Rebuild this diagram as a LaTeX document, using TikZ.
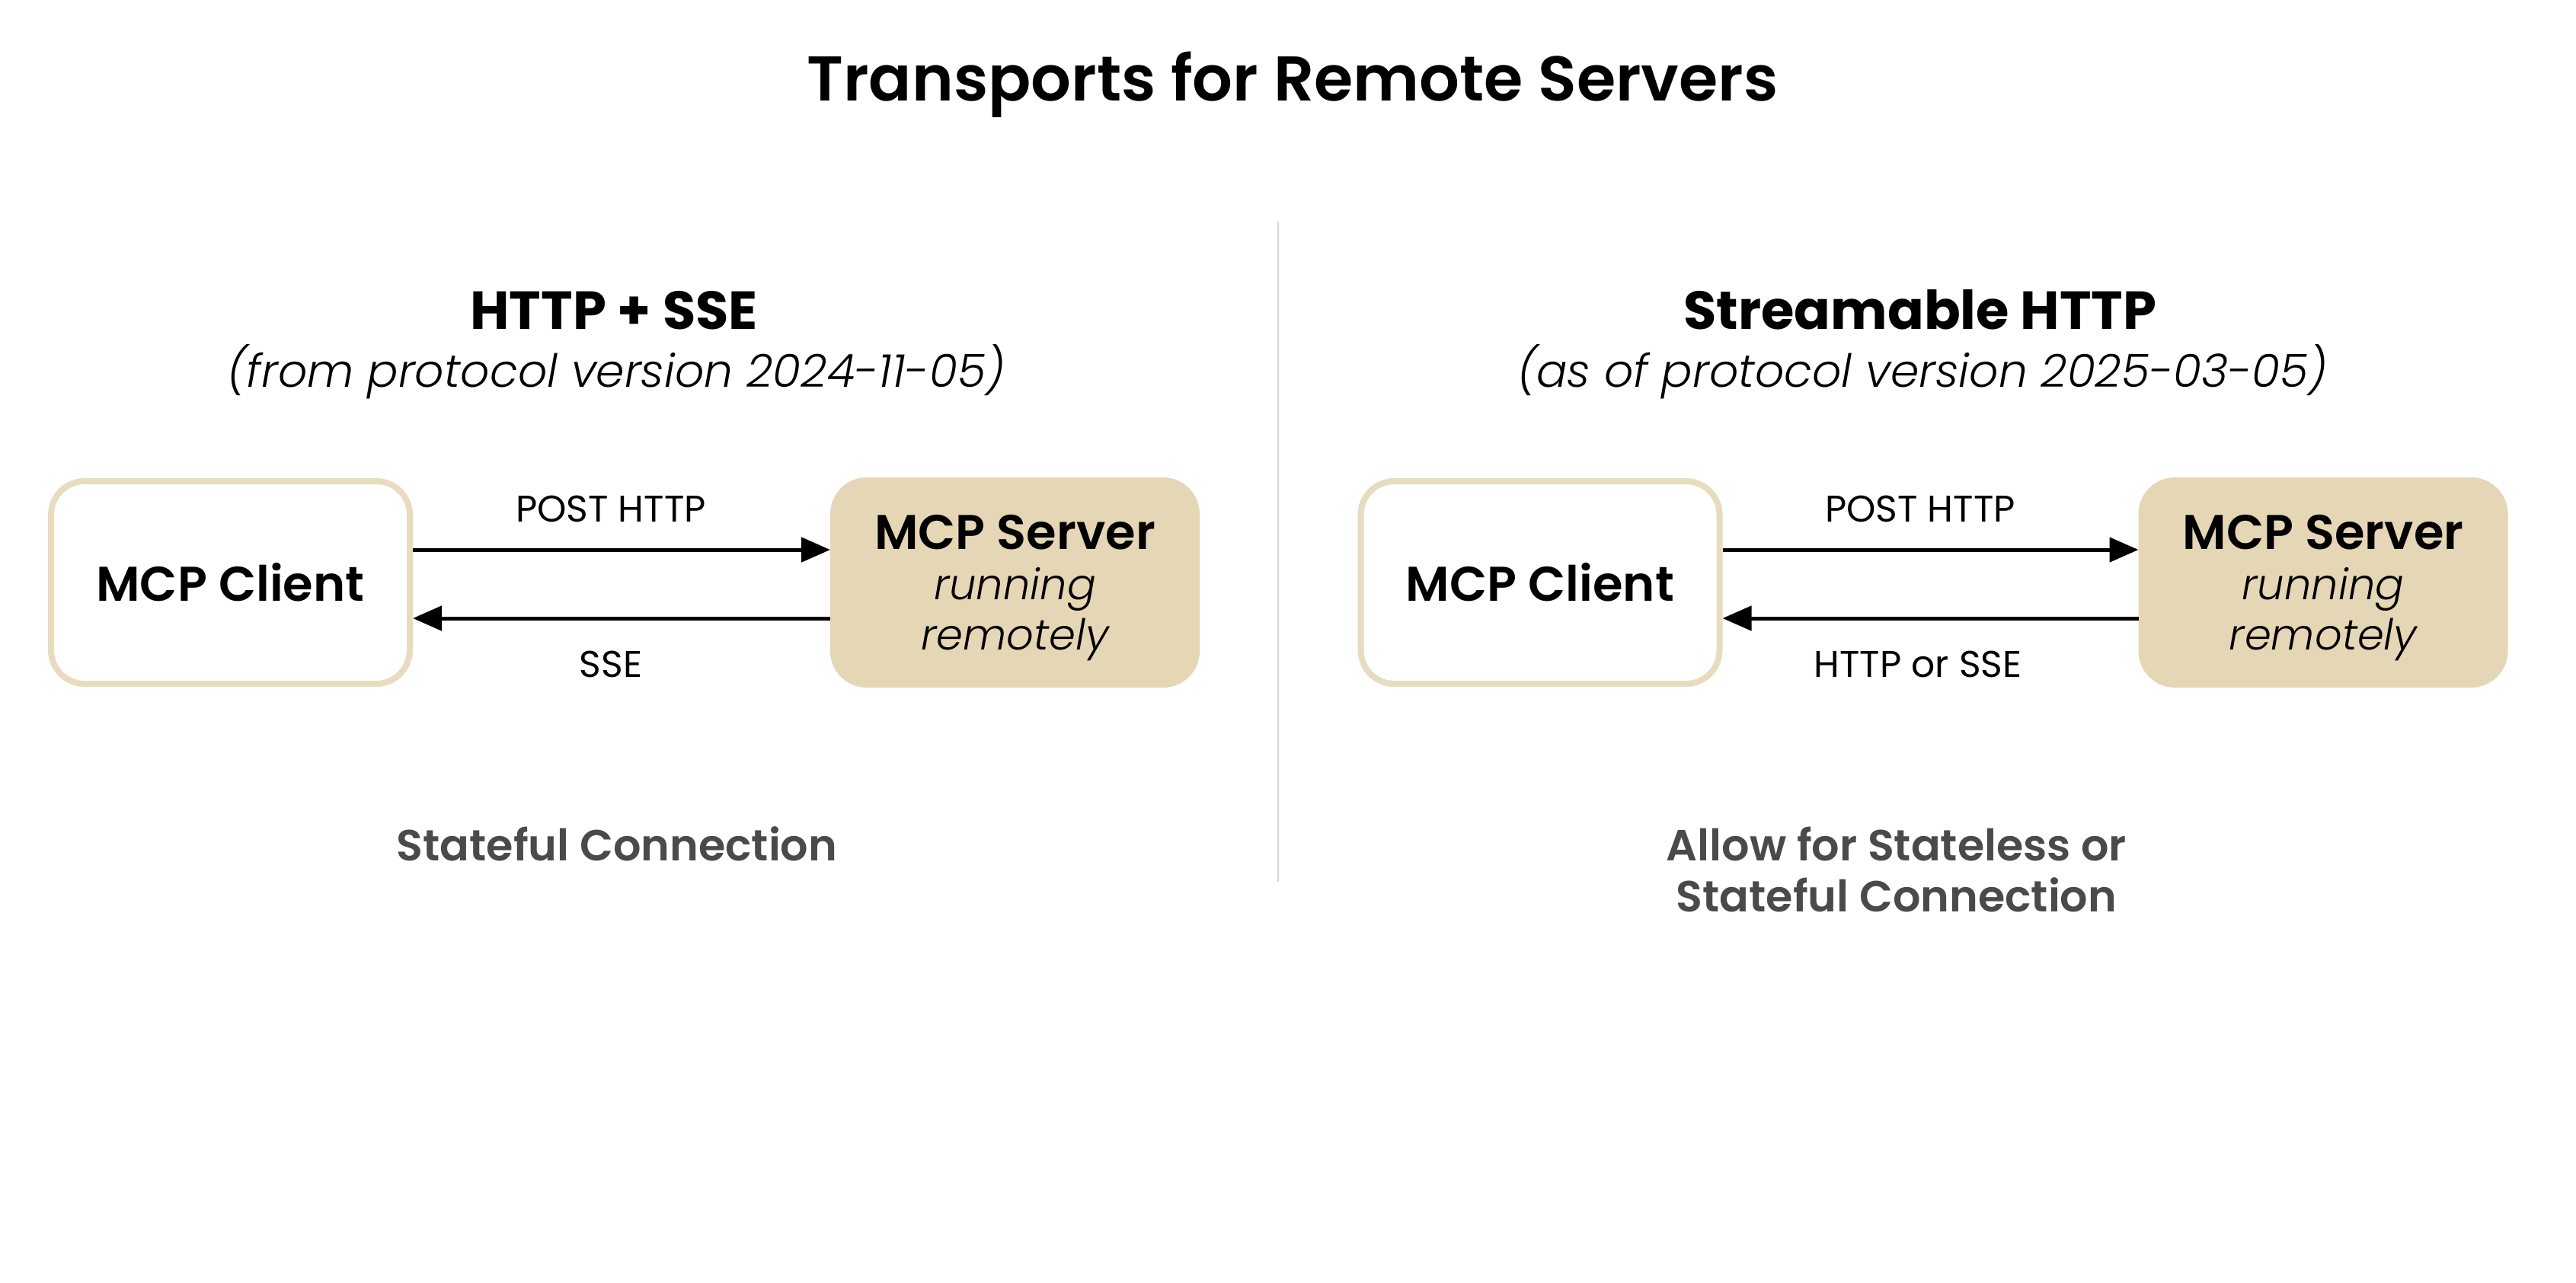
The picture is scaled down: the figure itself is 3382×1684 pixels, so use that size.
\documentclass[tikz,border=0pt]{standalone}
\usepackage{fontspec}
\setmainfont{Poppins}
\newfontfamily\popsemi{Poppins SemiBold}
\newfontfamily\popbold{Poppins Bold}
\newfontfamily\poplightit{Poppins Light Italic}
\usetikzlibrary{arrows.meta}

\definecolor{tanedge}{RGB}{232,220,190}
\definecolor{tanfill}{RGB}{229,214,181}
\definecolor{notegray}{RGB}{74,74,74}
\definecolor{divgray}{RGB}{214,214,214}

\tikzset{every picture/.style={line width=0.75pt}}
\tikzset{
  clientbox/.style={draw=tanedge, fill=white, line width=2pt, rounded corners=11pt,
    minimum width=117.75pt, minimum height=66.5pt, font=\popsemi\fontsize{16}{16.5}\selectfont},
  serverbox/.style={draw=tanfill, fill=tanfill, line width=2pt, rounded corners=11pt,
    minimum width=119.25pt, minimum height=67pt, align=center, text height=48.25pt, text depth=4.25pt,
    font=\popsemi\fontsize{16}{16.5}\selectfont},
  msgarrow/.style={-{Triangle[length=9.5pt,width=8pt]}, line width=1.25pt},
  msglabel/.style={anchor=base, font=\fontsize{12.2}{14}\selectfont},
  headtext/.style={anchor=base, font=\popbold\fontsize{17.6}{20}\selectfont},
  subtext/.style={anchor=base, font=\poplightit\fontsize{15}{17}\selectfont},
  notetext/.style={anchor=base, align=center, text=notegray, font=\popsemi\fontsize{14.3}{16.75}\selectfont},
}
\newcommand{\remotetag}{\poplightit\fontsize{14}{16.5}\selectfont}

\begin{document}
\begin{tikzpicture}[x=0.25pt,y=0.25pt,yscale=-1]
\useasboundingbox [fill=white] (0,0) rectangle (3382,1684);

% Title
\draw (1697,132) node (title) [anchor=base, font=\popsemi\fontsize{20.75}{25}\selectfont] {Transports for Remote Servers};

%Straight Lines [divider]
\draw [divgray, line width=0.5pt] (1678,291) -- (1678,1158);

% Left column: HTTP + SSE
\draw (806,432) node (lhead) [headtext] {HTTP + SSE};
\draw (809,508) node (lsub) [subtext] {(from protocol version 2024-11-05)};

\draw (302.5,765) node (lclient) [clientbox] {MCP Client};
\draw (1332.5,765) node (lserver) [serverbox] {MCP Server\\ \remotetag running\\ \remotetag remotely};

\draw [msgarrow] ([yshift=-10.75pt]lclient.east) -- ([yshift=-10.75pt]lserver.west);
\draw [msgarrow] ([yshift=11.75pt]lserver.west) -- ([yshift=11.75pt]lclient.east);

\draw (802,685) node (lpost) [msglabel] {POST HTTP};
\draw (802,889) node (lsse) [msglabel] {SSE};

\draw (810,1130) node (lnote) [notetext] {Stateful Connection};

% Right column: Streamable HTTP
\draw (2521,432) node (rhead) [headtext] {Streamable HTTP};
\draw (2524,508) node (rsub) [subtext] {(as of protocol version 2025-03-05)};

\draw (2022,765) node (rclient) [clientbox] {MCP Client};
\draw (3050,765) node (rserver) [serverbox] {MCP Server\\ \remotetag running\\ \remotetag remotely};

\draw [msgarrow] ([yshift=-10.75pt]rclient.east) -- ([yshift=-10.75pt]rserver.west);
\draw [msgarrow] ([yshift=11.75pt]rserver.west) -- ([yshift=11.75pt]rclient.east);

\draw (2521,685) node (rpost) [msglabel] {POST HTTP};
\draw (2518,889) node (rret) [msglabel] {HTTP or SSE};

\draw (2490,1197) node (rnote) [notetext] {Allow for Stateless or\\ Stateful Connection};

\end{tikzpicture}
\end{document}
